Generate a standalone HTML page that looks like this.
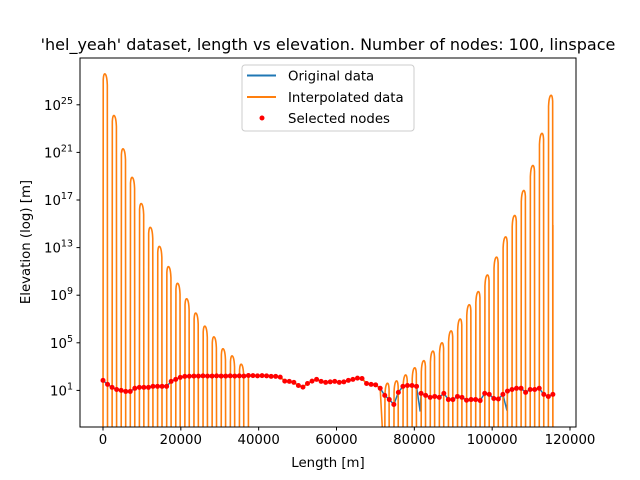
<!DOCTYPE html>
<html><head><meta charset="utf-8"><style>
body{margin:0;background:#fff}
svg{display:block;font-family:"DejaVu Sans","Liberation Sans",sans-serif}
</style></head><body>
<svg id="chart" width="640" height="480" viewBox="0 0 640 480">
<rect width="640" height="480" fill="#fff"/>
<defs><clipPath id="clip"><rect x="80" y="58" width="496" height="369"/></clipPath></defs>
<text x="328" y="50" text-anchor="middle" font-size="16">'hel_yeah' dataset, length vs elevation. Number of nodes: 100, linspace</text>
<g id="plot" clip-path="url(#clip)"></g>
<g id="axes"></g>
<text x="328" y="467" text-anchor="middle" font-size="13.3">Length [m]</text>
<text transform="translate(30,242) rotate(-90)" text-anchor="middle" font-size="13.3">Elevation (log) [m]</text>
<g>
<rect x="242" y="65" width="172" height="66" rx="3" fill="#fff" fill-opacity="0.8" stroke="#ccc"/>
<line x1="247" y1="75.5" x2="276" y2="75.5" stroke="#1f77b4" stroke-width="2"/>
<text x="288" y="80.5" font-size="13.3">Original data</text>
<line x1="247" y1="97" x2="276" y2="97" stroke="#ff7f0e" stroke-width="2"/>
<text x="288" y="102" font-size="13.3">Interpolated data</text>
<circle cx="262" cy="118" r="2.5" fill="red"/>
<text x="288" y="123" font-size="13.3">Selected nodes</text>
</g>
</svg>
<script>
// ---- data ----
const nodeCount = 100;
const lengthMax = 115600;
const nodeElevations = [69,32,18,12,10,8.2,8.2,15,18,18,18,22,22,22,22,57,85,125,150,155,160,160,165,160,160,165,160,160,165,160,165,160,180,175,165,175,165,150,150,130,60,57,47,26,19,38,60,85,57,47,52,57,47,52,70,85,108,100,38,32,29,15,3.8,1.7,0.66,6.8,22,26,26,22,5.6,3.8,2.6,3.1,2.6,5.6,1.7,1.7,3.1,2.6,1.5,1.7,1.7,1.4,5.6,4.6,2.1,1.9,4.6,8.7,12,15,15,6.8,12,12,15,4.6,3.1,4.6];
const originalExtraLengths = [81500, 103800];
const originalExtraElev = [0.17, 0.2];
const leftLobeIntervals = [0,2,4,6,8,10,12,14,16,18,20,22,24,26,28,30];
const leftLobePeakExp = [27.6,24.1,21.3,18.9,16.7,14.7,13.1,11.4,10.0,8.7,7.5,6.4,5.5,4.5,3.9,3.2];
const rightLobeIntervals = [62,64,66,68,70,72,74,76,78,80,82,84,86,88,90,92,94,96,98];
const rightLobePeakExp = [1.6,1.8,2.3,2.9,3.5,4.3,5.0,6.0,7.0,8.2,9.3,10.7,12.2,13.9,15.7,17.8,19.9,22.6,25.8];
const endSpikeExp = 14.9;
const xTicks = [0,20000,40000,60000,80000,100000,120000];
const yTickExps = [1,5,9,13,17,21,25];

// ---- axes ----
const X0=80,X1=576,Y0=58,Y1=427;
const xs = v => 103 + v*(467/120000);
const ys = e => 390.4 - (e-1)*11.9;
const NS="http://www.w3.org/2000/svg";
function mk(tag, attrs, parent){const el=document.createElementNS(NS,tag);for(const k in attrs)el.setAttribute(k,attrs[k]);parent.appendChild(el);return el;}
const plot=document.getElementById('plot'), axes=document.getElementById('axes');
const step = lengthMax/(nodeCount-1);
const nodeX = i => i*step;

// original data (blue)
const orig = nodeElevations.map((v,i)=>[nodeX(i),v]);
originalExtraLengths.forEach((l,k)=>orig.push([l,originalExtraElev[k]]));
orig.sort((a,b)=>a[0]-b[0]);
let d = orig.map((p,i)=>(i?'L':'M')+xs(p[0]).toFixed(2)+','+ys(Math.log10(p[1])).toFixed(2)).join('');
let bl = mk('path',{d:d,fill:'none',stroke:'#1f77b4','stroke-width':1.5},plot);



// interpolated (orange)
const BOT=-6;
const lobeMap = {};
leftLobeIntervals.forEach((iv,k)=>lobeMap[iv]=leftLobePeakExp[k]);
rightLobeIntervals.forEach((iv,k)=>lobeMap[iv]=rightLobePeakExp[k]);
const pts=[];
for(let i=0;i<nodeCount-1;i++){
  const inLobeZone = (i<=31)||(i>=62);
  if(!inLobeZone){pts.push([nodeX(i),Math.log10(nodeElevations[i])]);continue;}
  if(lobeMap[i]!==undefined){
    const left = i<=31;
    for(let s=0;s<=20;s++){const t=s/20;const tw = left?Math.pow(t,0.75):1-Math.pow(1-t,0.75);
      const sv=Math.sin(Math.PI*tw);
      const e = sv<=1e-9?BOT:Math.max(BOT,lobeMap[i]+Math.log10(sv));
      pts.push([nodeX(i)+t*step,e]);}
  } else {pts.push([nodeX(i),BOT]);pts.push([nodeX(i+1),BOT]);}
}
pts.push([nodeX(nodeCount-1),BOT]);
pts.push([nodeX(nodeCount-1),endSpikeExp]);
d = pts.map((p,i)=>(i?'L':'M')+xs(p[0]).toFixed(2)+','+ys(p[1]).toFixed(2)).join('');
let ol = mk('path',{d:d,fill:'none',stroke:'#ff7f0e','stroke-width':1.6,'stroke-linejoin':'round'},plot);



// nodes
nodeElevations.forEach((v,i)=>{
  const c = mk('circle',{cx:xs(nodeX(i)),cy:ys(Math.log10(v)),r:2.5,fill:'red'},plot);
  
  
});

// frame
let fr = mk('rect',{x:X0,y:Y0,width:X1-X0,height:Y1-Y0,fill:'none',stroke:'#000','stroke-width':1},axes);


xTicks.forEach(v=>{
  const x=xs(v);
  const t=mk('line',{x1:x,y1:Y1,x2:x,y2:Y1+3.5,stroke:'#000'},axes);
  
  
  const l=mk('text',{x:x,y:Y1+17,'text-anchor':'middle','font-size':13.3},axes);
  l.textContent=String(v);
  
  
});
yTickExps.forEach(e=>{
  const y=ys(e);
  const t=mk('line',{x1:X0-3.5,y1:y,x2:X0,y2:y,stroke:'#000'},axes);
  
  
  const l=mk('text',{x:X0-7,y:y+5,'text-anchor':'end','font-size':13.3},axes);
  l.innerHTML='10<tspan dy="-6" font-size="9.5">'+e+'</tspan>';
  
  
});
</script>
</body></html>
